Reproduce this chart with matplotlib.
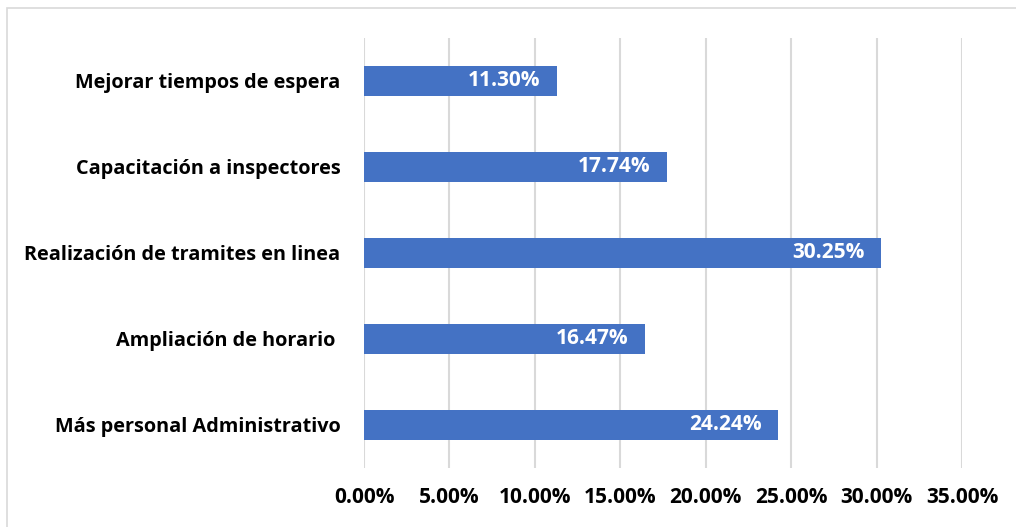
import matplotlib.pyplot as plt
import matplotlib.patches as mpatches
from matplotlib.ticker import MultipleLocator, FuncFormatter

categorias = ["Más personal Administrativo", "Ampliación de horario ",
              "Realización de tramites en linea", "Capacitación a inspectores",
              "Mejorar tiempos de espera"]
porcentajes = [24.24, 16.47, 30.25, 17.74, 11.30]

plt.rcParams['font.family'] = ['Open Sans', 'DejaVu Sans']
plt.rcParams['font.weight'] = 'bold'

fig = plt.figure(figsize=(10.16, 5.27), dpi=100)
ax = fig.add_axes([0.3583, 0.112, 0.5886, 0.8159])

ax.barh(range(len(categorias)), porcentajes, height=0.35,
        color='#4472C4', zorder=3)
for i, v in enumerate(porcentajes):
    ax.annotate(f"{v:.2f}%", (v, i), xytext=(-12, 0),
                textcoords='offset points', ha='right', va='center',
                color='white', fontsize=15, fontweight='bold', zorder=4)

ax.set_xlim(0, 35)
ax.set_ylim(-0.5, 4.5)
ax.xaxis.set_major_locator(MultipleLocator(5))
ax.xaxis.set_major_formatter(FuncFormatter(lambda v, p: f"{v:.2f}%"))
ax.set_yticks(range(len(categorias)))
ax.set_yticklabels(categorias)
ax.tick_params(axis='both', length=0)
ax.tick_params(axis='x', pad=14, labelsize=15)
ax.tick_params(axis='y', pad=17, labelsize=14.3)
for lbl in ax.get_xticklabels() + ax.get_yticklabels():
    lbl.set_fontweight('bold')

ax.grid(axis='x', color='#D9D9D9', linewidth=1.5, zorder=0)
for s in ax.spines.values():
    s.set_visible(False)

# marco del gráfico
fig.patches.append(mpatches.Rectangle((7 / 1016, -0.1), 1.0, 1.1 - 8 / 527,
                                      transform=fig.transFigure, fill=False,
                                      edgecolor='#D9D9D9', linewidth=1.2))

fig.savefig("out.png", dpi=100)
